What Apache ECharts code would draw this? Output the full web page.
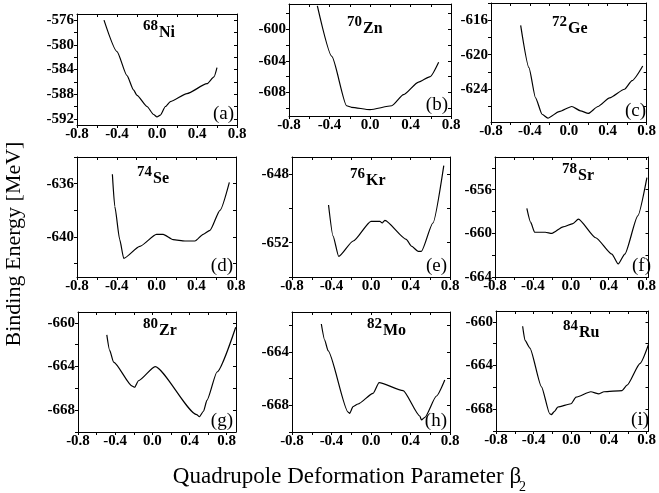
<!DOCTYPE html>
<html>
<head>
<meta charset="utf-8">
<script src="https://cdn.jsdelivr.net/npm/echarts@6/dist/echarts.min.js"></script>
<style>
  html, body { margin: 0; padding: 0; background: #fff; }
  #chart { width: 659px; height: 493px; }
</style>
</head>
<body>
<div id="chart"></div>
<script>
// deformation (beta2) and binding energy (MeV)
const betaA = [-0.53, -0.4, -0.3, -0.235, -0.2, -0.1, -0.034, 0.0, 0.034, 0.084, 0.134, 0.3, 0.5, 0.57, 0.6];
const energyA = [-576.0, -581.1, -585.0, -587.3, -588.2, -590.0, -591.3, -591.7, -591.4, -590.0, -589.2, -587.9, -586.3, -585.2, -583.7];

const betaB = [-0.52, -0.377, -0.231, -0.182, 0.0, 0.215, 0.331, 0.479, 0.595, 0.678];
const energyB = [-597.05, -603.45, -609.7, -609.9, -610.2, -609.7, -608.3, -606.7, -606.0, -604.2];

const betaC = [-0.495, -0.41, -0.342, -0.275, -0.215, -0.1, 0.03, 0.12, 0.2, 0.3, 0.42, 0.573, 0.65, 0.76];
const energyC = [-616.6, -621.5, -625.0, -626.9, -627.35, -626.6, -626.0, -626.5, -626.8, -626.0, -625.0, -624.0, -623.0, -621.3];

const betaD = [-0.444, -0.42, -0.37, -0.33, -0.168, 0.0, 0.067, 0.168, 0.286, 0.387, 0.47, 0.538, 0.639, 0.733];
const energyD = [-635.3, -637.7, -640.2, -641.6, -640.7, -639.8, -639.8, -640.2, -640.3, -640.3, -639.8, -639.5, -638.0, -635.9];

const betaE = [-0.43, -0.385, -0.327, -0.18, 0.0, 0.09, 0.113, 0.14, 0.357, 0.41, 0.477, 0.51, 0.627, 0.737];
const energyE = [-649.8, -651.6, -652.8, -651.9, -650.75, -650.75, -650.85, -650.7, -651.8, -652.2, -652.5, -652.5, -650.85, -647.5];

const betaF = [-0.464, -0.423, -0.382, -0.269, -0.2, -0.081, 0.022, 0.08, 0.262, 0.433, 0.5, 0.57, 0.707, 0.803];
const energyF = [-657.7, -659.0, -659.9, -659.9, -660.0, -659.4, -659.1, -658.7, -660.4, -661.9, -662.8, -661.9, -658.4, -654.9];

const betaG = [-0.49, -0.46, -0.417, -0.216, -0.19, -0.15, 0.03, 0.477, 0.506, 0.55, 0.587, 0.696, 0.897];
const energyG = [-661.1, -662.5, -663.6, -665.8, -665.9, -665.3, -664.0, -668.4, -668.6, -668.1, -667.1, -664.5, -660.4];

const betaH = [-0.503, -0.469, -0.435, -0.232, -0.216, -0.182, -0.131, 0.021, 0.082, 0.325, 0.494, 0.511, 0.545, 0.663, 0.747];
const energyH = [-661.9, -663.1, -663.9, -668.5, -668.6, -668.1, -667.9, -667.1, -666.3, -666.9, -668.8, -669.1, -668.9, -667.3, -666.1];

const betaI = [-0.517, -0.492, -0.44, -0.317, -0.23, -0.213, -0.178, -0.143, -0.003, 0.05, 0.207, 0.294, 0.347, 0.539, 0.592, 0.731, 0.819];
const energyI = [-660.4, -661.7, -662.4, -665.95, -668.4, -668.5, -668.2, -667.8, -667.5, -666.9, -666.4, -666.6, -666.4, -666.3, -665.8, -663.8, -662.1];

// tick labels
const xTickLabels = [-0.8, -0.4, 0.0, 0.4, 0.8];
const yTicksA = [-576, -580, -584, -588, -592];
const yTicksB = [-600, -604, -608];
const yTicksC = [-616, -620, -624];
const yTicksD = [-636, -640];
const yTicksE = [-648, -652];
const yTicksF = [-656, -660, -664];
const yTicksG = [-660, -664, -668];
const yTicksH = [-664, -668];
const yTicksI = [-660, -664, -668];

const isotopes = [['68', 'Ni'], ['70', 'Zn'], ['72', 'Ge'], ['74', 'Se'], ['76', 'Kr'], ['78', 'Sr'], ['80', 'Zr'], ['82', 'Mo'], ['84', 'Ru']];
const panelLetters = ['(a)', '(b)', '(c)', '(d)', '(e)', '(f)', '(g)', '(h)', '(i)'];

// layout of each panel: box, axis ranges, isotope label position
const panels = [
  { beta: betaA, energy: energyA, yTicks: yTicksA, left: 77, top: 14, width: 160, height: 111, xMax: 0.8, yMin: -593, yMax: -575, tx: 143, ty: 19 },
  { beta: betaB, energy: energyB, yTicks: yTicksB, left: 289, top: 4, width: 162, height: 112, xMax: 0.8, yMin: -611, yMax: -596.8, tx: 347, ty: 15 },
  { beta: betaC, energy: energyC, yTicks: yTicksC, left: 491, top: 3, width: 158, height: 119, xMax: 0.8, yMin: -627.8, yMax: -614, tx: 552, ty: 15 },
  { beta: betaD, energy: energyD, yTicks: yTicksD, left: 77, top: 157, width: 159, height: 120, xMax: 0.8, yMin: -643, yMax: -634, tx: 137, ty: 165 },
  { beta: betaE, energy: energyE, yTicks: yTicksE, left: 292, top: 157, width: 158, height: 120, xMax: 0.8, yMin: -654, yMax: -647, tx: 350, ty: 167 },
  { beta: betaF, energy: energyF, yTicks: yTicksF, left: 495, top: 157, width: 159, height: 120, xMax: 0.82, yMin: -664, yMax: -653, tx: 562, ty: 162 },
  { beta: betaG, energy: energyG, yTicks: yTicksG, left: 78, top: 312, width: 158, height: 120, xMax: 0.9, yMin: -670, yMax: -659, tx: 143, ty: 317 },
  { beta: betaH, energy: energyH, yTicks: yTicksH, left: 292, top: 312, width: 158, height: 120, xMax: 0.8, yMin: -670, yMax: -661, tx: 367, ty: 317 },
  { beta: betaI, energy: energyI, yTicks: yTicksI, left: 496, top: 311, width: 156, height: 120, xMax: 0.82, yMin: -670, yMax: -659, tx: 563, ty: 319 }
];

const labelFont = { fontFamily: 'Liberation Serif', fontWeight: 'bold', fontSize: 15, color: '#000' };
const lineBlack = { onZero: false, lineStyle: { color: '#000', width: 1 } };

function minorTicks(min, max, step) {
  const out = [];
  for (let v = Math.ceil(min / step) * step; v <= max + 1e-9; v += step) {
    out.push(Math.round(v * 100) / 100);
  }
  return out;
}

const grid = [], xAxis = [], yAxis = [], series = [], graphic = [];

panels.forEach(function (p, i) {
  grid.push({ left: p.left, top: p.top, width: p.width, height: p.height, show: false });
  const xTicks = minorTicks(-0.8, p.xMax, 0.2);
  const yTicks = minorTicks(p.yMin, p.yMax, 2);
  // bottom
  xAxis.push({
    type: 'value', gridIndex: i, min: -0.8, max: p.xMax, position: 'bottom',
    axisLine: lineBlack,
    axisTick: { show: true, length: 3, customValues: xTicks, lineStyle: { color: '#000' } },
    axisLabel: Object.assign({ margin: 2, customValues: xTickLabels, formatter: v => v.toFixed(1) }, labelFont),
    splitLine: { show: false }
  });
  // top mirror
  xAxis.push({
    type: 'value', gridIndex: i, min: -0.8, max: p.xMax, position: 'top',
    axisLine: lineBlack,
    axisTick: { show: true, inside: true, length: 3, customValues: xTicks, lineStyle: { color: '#000' } },
    axisLabel: { show: false },
    splitLine: { show: false }
  });
  // left
  yAxis.push({
    type: 'value', gridIndex: i, min: p.yMin, max: p.yMax, position: 'left',
    axisLine: lineBlack,
    axisTick: { show: true, length: 3, customValues: yTicks, lineStyle: { color: '#000' } },
    axisLabel: Object.assign({ margin: 3, customValues: p.yTicks, formatter: v => String(v) }, labelFont),
    splitLine: { show: false }
  });
  // right mirror
  yAxis.push({
    type: 'value', gridIndex: i, min: p.yMin, max: p.yMax, position: 'right',
    axisLine: lineBlack,
    axisTick: { show: true, inside: true, length: 3, customValues: yTicks, lineStyle: { color: '#000' } },
    axisLabel: { show: false },
    splitLine: { show: false }
  });
  series.push({
    type: 'line',
    xAxisIndex: 2 * i,
    yAxisIndex: 2 * i,
    showSymbol: false,
    smooth: 0.2,
    smoothMonotone: 'x',
    lineStyle: { color: '#000', width: 1.2 },
    data: p.beta.map((b, k) => [b, p.energy[k]])
  });
  // isotope: mass number raised, element symbol lowered
  graphic.push({
    type: 'text', x: p.tx, y: p.ty,
    style: { text: isotopes[i][0], align: 'left', verticalAlign: 'top', font: 'bold 15px "Liberation Serif"', fill: '#000' }
  });
  graphic.push({
    type: 'text', x: p.tx + 16, y: p.ty + 6,
    style: { text: isotopes[i][1], align: 'left', verticalAlign: 'top', font: 'bold 16px "Liberation Serif"', fill: '#000' }
  });
  graphic.push({
    type: 'text',
    x: p.left + p.width - 3,
    y: p.top + p.height - 1,
    style: { text: panelLetters[i], align: 'right', verticalAlign: 'bottom', font: '19px "Liberation Serif"', fill: '#000' }
  });
});

graphic.push({
  type: 'text', x: 14, y: 244, rotation: Math.PI / 2,
  style: { text: 'Binding Energy [MeV]', align: 'center', verticalAlign: 'middle', font: '22px "Liberation Serif"', fill: '#000' }
});
graphic.push({
  type: 'text', x: 347, y: 465,
  style: { text: 'Quadrupole Deformation Parameter β', align: 'center', verticalAlign: 'top', font: '23px "Liberation Serif"', fill: '#000' }
});
graphic.push({
  type: 'text', x: 519, y: 480,
  style: { text: '2', align: 'left', verticalAlign: 'top', font: '14px "Liberation Serif"', fill: '#000' }
});

const chart = echarts.init(document.getElementById('chart'));
chart.setOption({
  animation: false,
  backgroundColor: '#fff',
  grid: grid,
  xAxis: xAxis,
  yAxis: yAxis,
  series: series,
  graphic: graphic
});
</script>
</body>
</html>
